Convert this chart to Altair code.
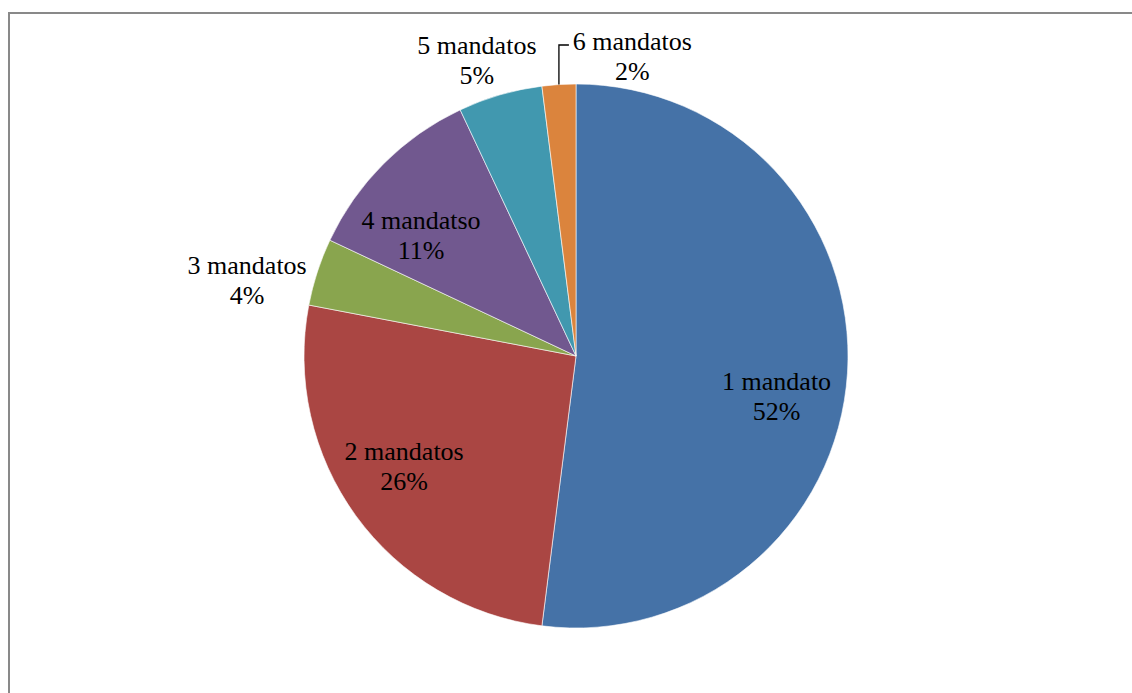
import math
import altair as alt
import pandas as pd

# Distribution of councillors by number of mandates served
categories = ["1 mandato", "2 mandatos", "3 mandatos", "4 mandatso", "5 mandatos", "6 mandatos"]
percents = [52, 26, 4, 11, 5, 2]
colors = ["#4572A7", "#AA4643", "#89A54E", "#71588F", "#4198AF", "#DB843D"]

W, H = 1132, 693
CX, CY, R = 576, 356, 272
FONT = "Liberation Serif"
TOTAL = sum(percents)

df = pd.DataFrame({
    "cat": categories,
    "pct": percents,
    "order": list(range(len(categories))),
})

pie = alt.Chart(df).mark_arc(outerRadius=R, stroke="white", strokeWidth=0.6).encode(
    theta=alt.Theta("pct:Q", stack=True),
    order=alt.Order("order:Q", sort="ascending"),
    x=alt.value(CX),
    y=alt.value(CY),
    color=alt.Color("cat:N", sort=categories,
                    scale=alt.Scale(domain=categories, range=colors), legend=None),
)

# cumulative angle of each slice's midpoint, computed before any filtering
labels_src = alt.Chart(df).transform_window(
    cum="sum(pct)", sort=[alt.SortField("order", order="ascending")],
    frame=[None, 0],
).transform_calculate(
    mid="datum.cum - datum.pct / 2",
    label="datum.cat + '\\n' + datum.pct + '%'",
)

# label radius and nudges (dx, dy) per slice: small slices get outside labels
nudges = {
    "1 mandato": (205, -4, 13),
    "2 mandatos": (205, -6, -24),
    "4 mandatso": (205, -10, 10),
    "3 mandatos": (330, -15, 12),
    "5 mandatos": (330, -7, 7),
    "6 mandatos": (330, 77, 15),
}

label_layers = []
for cat, (rad, dx, dy) in nudges.items():
    label_layers.append(
        labels_src.transform_filter(alt.datum.cat == cat).mark_text(
            font=FONT, fontSize=26, color="black", align="center",
            baseline="middle", lineBreak="\n", lineHeight=30, dx=dx, dy=dy,
        ).encode(
            theta=alt.Theta("mid:Q", stack=None,
                            scale=alt.Scale(domain=[0, TOTAL], range=[0, 2 * math.pi])),
            x=alt.value(CX), y=alt.value(CY),
            radius=alt.value(rad),
            text="label:N",
        )
    )

# leader line from the thinnest slice to its label
cum = sum(percents[:5]) + percents[5] / 2
ang = math.radians(cum / TOTAL * 360)
ex = CX + R * math.sin(ang)
ey = CY - R * math.cos(ang)
lead = pd.DataFrame({"x": [ex, ex, ex + 10], "y": [ey, 45, 45], "i": [0, 1, 2]})
leader = alt.Chart(lead).mark_line(color="black", strokeWidth=1.3).encode(
    x=alt.X("x:Q", scale=alt.Scale(domain=[0, W], range=[0, W]), axis=None),
    y=alt.Y("y:Q", scale=alt.Scale(domain=[0, H], range=[0, H]), axis=None),
    order="i:Q",
)

# chart frame
frame_top = alt.Chart(df).mark_rule(color="#898989", strokeWidth=2).encode(
    x=alt.value(8), x2=alt.value(W + 5), y=alt.value(13))
frame_left = alt.Chart(df).mark_rule(color="#898989", strokeWidth=2).encode(
    x=alt.value(9), y=alt.value(12), y2=alt.value(H + 5))

chart = alt.layer(pie, *label_layers, leader, frame_top, frame_left).resolve_scale(
    x="independent", y="independent", theta="independent"
).properties(
    width=W, height=H, padding=0, autosize=alt.AutoSizeParams(type="none"),
    background="white",
).configure_view(stroke=None)

chart.save("out.html", embed_options={"renderer": "svg", "actions": False})
